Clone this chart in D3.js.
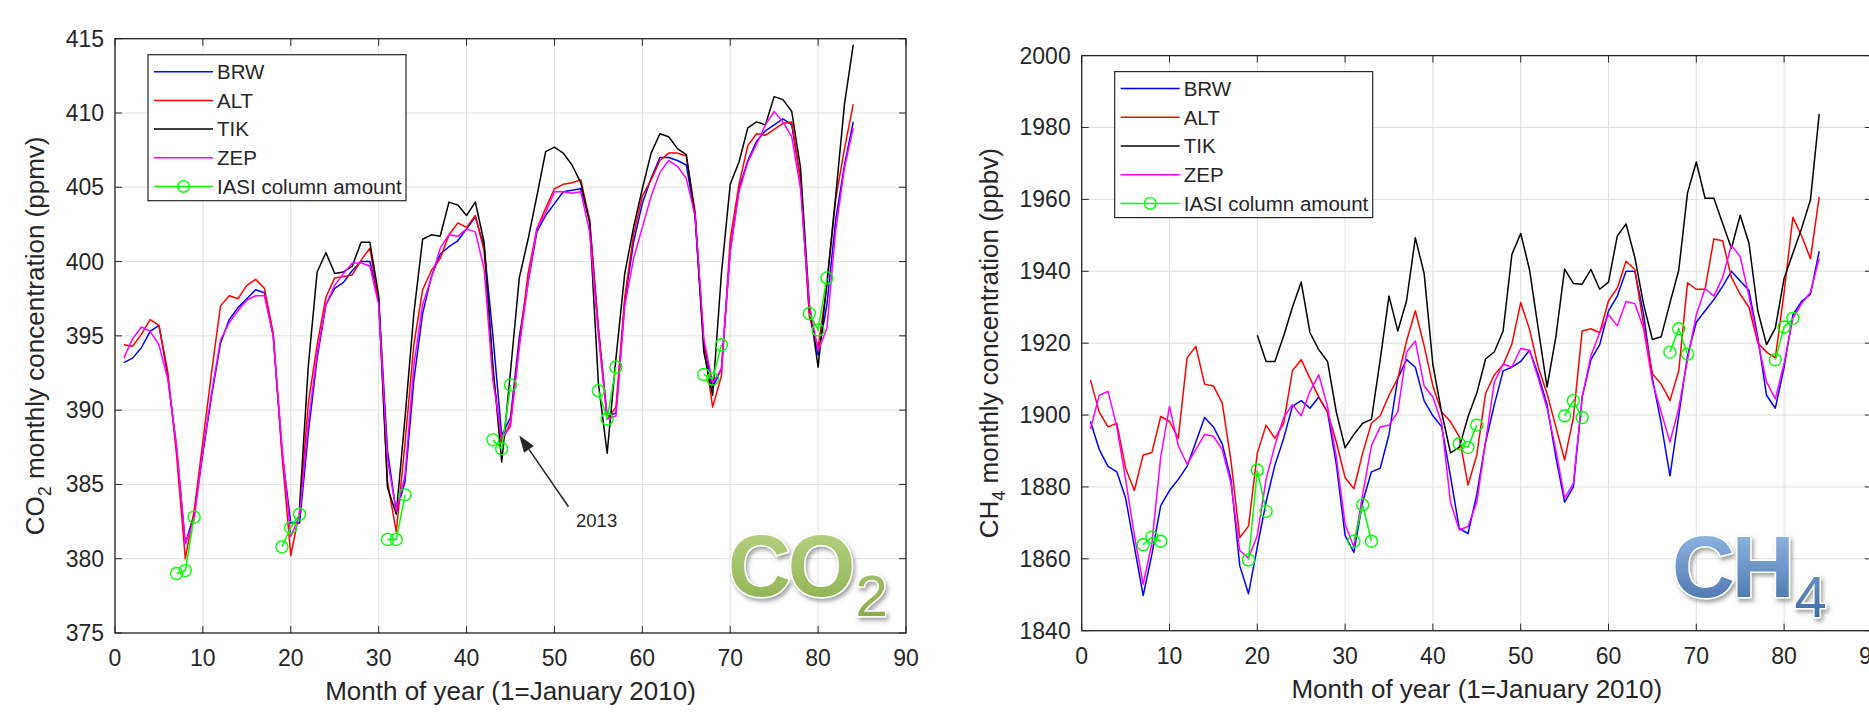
<!DOCTYPE html>
<html>
<head>
<meta charset="utf-8">
<script src="https://cdnjs.cloudflare.com/ajax/libs/d3/7.8.5/d3.min.js"></script>
<style>
  body { margin: 0; background: #fff; }
  svg { display: block; font-family: "Liberation Sans", Arial, Helvetica, sans-serif; }
</style>
</head>
<body>
<svg id="chart" width="1869" height="714"></svg>
<script>
// month index, 1 = January 2010
var months = d3.range(1, 85);
var xTicks = d3.range(0, 100, 10);
var seriesNames = ["BRW", "ALT", "TIK", "ZEP"];
var seriesColors = ["#0000ff", "#ff0000", "#000000", "#ff00ff"];
var iasiColor = "#00ff00";

// ---- CO2 (ppmv) ----
var co2Ticks = d3.range(375, 416, 5);
var co2BRW = [393.2, 393.5, 394.2, 395.3, 395.7, 392.3, 387.5, 381.0, 383.0, 387.1,
  391.0, 394.5, 396.1, 396.9, 397.5, 398.1, 397.9, 395.0, 387.2, 382.4,
  382.4, 388.5, 393.5, 397.1, 398.2, 398.6, 399.4, 400.0, 400.0, 397.5,
  387.3, 383.1, 385.2, 392.0, 396.5, 399.0, 400.5, 401.0, 401.4, 402.2,
  403.0, 401.0, 395.0, 388.3, 389.5, 394.9, 398.6, 402.0, 403.1, 403.9,
  404.7, 404.8, 404.9, 402.8, 395.5, 389.6, 389.8, 397.3, 401.3, 403.9,
  405.6, 407.0, 407.0, 406.8, 406.5, 403.1, 394.5, 391.5, 392.8, 400.7,
  404.9, 406.8, 408.1, 408.8, 409.2, 409.6, 409.2, 405.5, 396.6, 393.7,
  397.1, 402.8, 406.5, 409.4];
var co2ALT = [394.4, 394.3, 395.1, 396.1, 395.7, 392.6, 387.0, 380.0, 383.2, 387.9,
  392.6, 397.0, 397.7, 397.5, 398.4, 398.8, 398.2, 395.2, 387.0, 380.2,
  383.2, 390.5, 394.4, 397.6, 398.9, 399.0, 399.1, 400.1, 400.9, 397.3,
  385.2, 381.8, 387.8, 394.4, 398.1, 399.4, 400.2, 401.8, 402.6, 402.3,
  403.1, 400.7, 392.5, 387.8, 389.2, 394.4, 399.2, 402.2, 403.6, 404.9,
  405.2, 405.3, 405.5, 402.8, 395.5, 389.4, 390.2, 397.6, 401.8, 404.4,
  405.5, 406.8, 407.3, 407.3, 407.1, 403.4, 394.4, 390.2, 392.3, 401.5,
  405.2, 407.8, 408.6, 408.5, 408.9, 409.3, 409.4, 405.5, 396.3, 394.2,
  398.4, 404.2, 407.6, 410.6];
var co2TIK = [null, null, null, null, null, null, null, null, null, null,
  null, null, null, null, null, null, null, null, null, null,
  383.5, 393.0, 399.3, 400.6, 399.2, 399.3, 399.7, 401.3, 401.3, 397.7,
  384.8, 383.0, 389.5, 396.5, 401.5, 401.8, 401.7, 404.0, 403.8, 403.1,
  404.0, 401.3, 393.0, 386.5, 392.6, 398.9, 401.5, 404.4, 407.4, 407.7,
  407.3, 406.5, 405.3, 402.6, 391.8, 387.1, 393.5, 399.2, 402.3, 404.9,
  407.3, 408.6, 408.4, 407.6, 407.2, 403.1, 393.9, 391.0, 399.2, 405.2,
  406.7, 409.0, 409.4, 409.2, 411.1, 410.9, 410.1, 406.3, 397.1, 392.9,
  398.6, 404.4, 410.6, 414.6];
var co2ZEP = [393.5, 394.8, 395.6, 395.3, 394.4, 392.1, 387.6, 381.0, 382.6, 387.3,
  391.2, 394.7, 395.9, 396.7, 397.4, 397.7, 397.7, 395.0, 387.6, 381.5,
  382.9, 389.2, 393.8, 397.1, 398.4, 399.2, 399.9, 399.9, 399.7, 397.1,
  386.7, 383.2, 385.6, 393.0, 397.1, 398.9, 400.9, 401.8, 401.7, 402.2,
  402.0, 399.5, 392.0, 388.1, 388.9, 394.2, 398.6, 402.2, 403.3, 404.7,
  404.7, 404.6, 404.7, 402.0, 395.0, 389.4, 389.6, 397.0, 400.2, 402.3,
  404.4, 406.0, 406.8, 406.4, 405.6, 403.1, 394.8, 391.8, 392.8, 400.7,
  404.7, 406.7, 407.9, 409.2, 410.1, 409.4, 408.4, 404.9, 397.1, 394.0,
  395.5, 402.1, 406.3, 409.0];

// IASI column amounts (Jul-Aug-Sep each year)
var iasiMonths = [7, 8, 9, 19, 20, 21, 31, 32, 33, 43, 44, 45, 55, 56, 57, 67, 68, 69, 79, 80, 81];
var iasiCO2 = [379.0, 379.2, 382.8, 380.8, 382.1, 383.0, 381.3, 381.3, 384.3, 388.0, 387.4,
  391.7, 391.3, 389.4, 392.9, 392.4, 392.1, 394.4, 396.5, 395.4, 398.9];

// ---- CH4 (ppbv) ----
var ch4Ticks = d3.range(1840, 2001, 20);
var ch4BRW = [1898.2, 1890.4, 1885.7, 1884.2, 1876.9, 1863.3, 1849.8, 1861.3, 1874.8, 1879.0,
  1882.1, 1885.7, 1892.5, 1899.3, 1896.7, 1892.0, 1882.1, 1858.1, 1850.3, 1863.3,
  1875.8, 1886.0, 1893.5, 1902.4, 1904.0, 1901.9, 1905.0, 1900.8, 1886.3, 1866.5,
  1861.8, 1875.8, 1884.2, 1885.2, 1894.6, 1910.2, 1915.4, 1913.3, 1904.0, 1899.8,
  1896.7, 1883.0, 1868.5, 1867.0, 1877.9, 1892.5, 1902.9, 1912.3, 1913.3, 1914.9,
  1918.0, 1911.2, 1902.9, 1888.3, 1875.8, 1880.0, 1905.0, 1915.4, 1919.6, 1929.0,
  1933.1, 1940.0, 1940.0, 1928.0, 1910.2, 1897.7, 1883.1, 1899.8, 1916.5, 1925.8,
  1929.0, 1932.1, 1935.8, 1940.0, 1937.3, 1934.7, 1921.7, 1905.5, 1901.9, 1913.3,
  1927.9, 1931.6, 1933.6, 1945.6];
var ch4ALT = [1909.7, 1900.8, 1896.7, 1897.7, 1885.2, 1879.0, 1888.9, 1889.6, 1899.6, 1898.2,
  1893.5, 1915.9, 1919.1, 1908.6, 1908.1, 1903.4, 1887.3, 1865.9, 1869.1, 1889.4,
  1897.2, 1893.5, 1897.7, 1912.3, 1915.4, 1910.2, 1905.0, 1900.8, 1892.5, 1882.6,
  1879.5, 1889.4, 1897.7, 1899.8, 1905.5, 1910.2, 1920.6, 1929.0, 1919.3, 1908.1,
  1900.8, 1898.2, 1894.0, 1880.5, 1888.9, 1906.0, 1911.2, 1913.9, 1919.8, 1931.3,
  1923.9, 1913.3, 1906.0, 1896.7, 1887.5, 1899.3, 1923.4, 1924.0, 1922.9, 1931.8,
  1935.3, 1942.8, 1940.5, 1925.0, 1911.5, 1908.6, 1904.0, 1912.3, 1936.8, 1935.0,
  1935.0, 1949.0, 1948.5, 1938.3, 1933.6, 1930.0, 1920.1, 1917.5, 1915.9, 1934.1,
  1955.0, 1949.8, 1943.5, 1960.7];
var ch4TIK = [null, null, null, null, null, null, null, null, null, null,
  null, null, null, null, null, null, null, null, null,
  1922.2, 1914.9, 1914.9, 1922.0, 1930.0, 1937.0, 1922.9, 1918.2, 1914.9, 1900.8,
  1890.9, 1894.6, 1897.7, 1898.8, 1915.4, 1933.1, 1923.4, 1931.8, 1949.3, 1939.4,
  1914.0, 1900.7, 1889.5, 1891.0, 1899.5, 1906.1, 1915.6, 1917.6, 1923.4, 1944.7,
  1950.5, 1940.5, 1924.0, 1907.8, 1921.7, 1940.6, 1936.6, 1936.4, 1940.5, 1935.0,
  1937.0, 1949.8, 1953.2, 1943.8, 1930.8, 1921.0, 1921.8, 1931.2, 1940.3, 1961.8,
  1970.4, 1960.3, 1960.3, 1953.3, 1946.4, 1955.6, 1947.8, 1929.0, 1919.6, 1924.2,
  1938.0, 1945.0, 1952.0, 1959.8, 1983.8];
var ch4ZEP = [1896.1, 1905.5, 1906.6, 1896.7, 1882.1, 1866.5, 1852.9, 1864.4, 1888.3, 1902.4,
  1891.5, 1886.3, 1890.4, 1894.6, 1894.1, 1890.4, 1881.0, 1862.3, 1860.2, 1866.5,
  1882.1, 1891.5, 1899.3, 1902.9, 1899.8, 1906.6, 1911.2, 1902.4, 1888.3, 1869.6,
  1863.3, 1877.9, 1891.5, 1896.7, 1897.2, 1900.8, 1917.5, 1920.6, 1908.1, 1905.0,
  1897.7, 1875.8, 1868.0, 1869.0, 1875.8, 1892.5, 1909.2, 1914.2, 1913.3, 1918.5,
  1918.0, 1910.2, 1901.9, 1890.4, 1876.9, 1881.0, 1905.0, 1916.5, 1922.9, 1927.9,
  1924.8, 1931.6, 1931.0, 1924.0, 1909.2, 1900.8, 1892.5, 1901.9, 1915.4, 1927.9,
  1935.2, 1933.1, 1938.3, 1947.2, 1944.1, 1933.1, 1920.6, 1909.2, 1904.5, 1914.4,
  1926.9, 1931.0, 1934.2, 1943.5];
var iasiCH4 = [1863.9, 1866.0, 1864.9, 1859.7, 1884.7, 1873.2, 1864.9, 1875.0, 1864.9, 1892.0,
  1891.0, 1897.2, 1899.8, 1904.0, 1899.3, 1917.5, 1924.0, 1917.0, 1915.4, 1924.5, 1926.9];

var svg = d3.select("#chart");
var ink = "#262626";

// gradients + shadow for the big formula labels
var defs = svg.append("defs");
var gGreen = defs.append("linearGradient").attr("id", "gradGreen").attr("x1", 0).attr("y1", 0).attr("x2", 0).attr("y2", 1);
gGreen.append("stop").attr("offset", "0%").attr("stop-color", "#bcd68a");
gGreen.append("stop").attr("offset", "100%").attr("stop-color", "#86a844");
var gBlue = defs.append("linearGradient").attr("id", "gradBlue").attr("x1", 0).attr("y1", 0).attr("x2", 0).attr("y2", 1);
gBlue.append("stop").attr("offset", "0%").attr("stop-color", "#9dc1ee");
gBlue.append("stop").attr("offset", "100%").attr("stop-color", "#35609c");
defs.append("filter").attr("id", "shadow").attr("x", "-20%").attr("y", "-20%").attr("width", "140%").attr("height", "140%")
  .append("feDropShadow").attr("dx", 2).attr("dy", 3).attr("stdDeviation", 2)
  .attr("flood-color", "#555").attr("flood-opacity", 0.55);

function drawPanel(p) {
  var x = d3.scaleLinear().domain([0, 90]).range([p.left, p.right]);
  var y = d3.scaleLinear().domain(p.yDomain).range([p.bottom, p.top]);
  var g = svg.append("g");

  // grid
  g.selectAll(".gx").data(xTicks).enter().append("line")
    .attr("x1", function(d) { return x(d); }).attr("x2", function(d) { return x(d); })
    .attr("y1", p.top).attr("y2", p.bottom)
    .attr("stroke", "#e0e0e0").attr("stroke-width", 1);
  g.selectAll(".gy").data(p.yTicks).enter().append("line")
    .attr("x1", p.left).attr("x2", p.right)
    .attr("y1", function(d) { return y(d); }).attr("y2", function(d) { return y(d); })
    .attr("stroke", "#e0e0e0").attr("stroke-width", 1);

  // station series
  var line = d3.line()
    .defined(function(d) { return d[1] != null; })
    .x(function(d) { return x(d[0]); })
    .y(function(d) { return y(d[1]); });
  p.series.forEach(function(vals, i) {
    g.append("path")
      .datum(months.map(function(m, j) { return [m, vals[j]]; }))
      .attr("d", line)
      .attr("fill", "none")
      .attr("stroke", seriesColors[i])
      .attr("stroke-width", 1.5)
      .attr("stroke-linejoin", "round");
  });

  // IASI: connected only within consecutive months
  var groups = [];
  iasiMonths.forEach(function(m, j) {
    if (j === 0 || m - iasiMonths[j - 1] > 1) groups.push([]);
    groups[groups.length - 1].push([m, p.iasi[j]]);
  });
  groups.forEach(function(gr) {
    g.append("path").datum(gr).attr("d", line)
      .attr("fill", "none").attr("stroke", iasiColor).attr("stroke-width", 1.5);
  });
  g.selectAll(".iasi").data(iasiMonths).enter().append("circle")
    .attr("cx", function(d) { return x(d); })
    .attr("cy", function(d, j) { return y(p.iasi[j]); })
    .attr("r", 6)
    .attr("fill", "none").attr("stroke", iasiColor).attr("stroke-width", 1.4);

  // box + inward ticks
  g.append("rect").attr("x", p.left).attr("y", p.top)
    .attr("width", p.right - p.left).attr("height", p.bottom - p.top)
    .attr("fill", "none").attr("stroke", ink).attr("stroke-width", 1.3);
  var tl = 7;
  xTicks.forEach(function(t) {
    g.append("line").attr("x1", x(t)).attr("x2", x(t)).attr("y1", p.bottom).attr("y2", p.bottom - tl).attr("stroke", ink);
    g.append("line").attr("x1", x(t)).attr("x2", x(t)).attr("y1", p.top).attr("y2", p.top + tl).attr("stroke", ink);
  });
  p.yTicks.forEach(function(t) {
    g.append("line").attr("x1", p.left).attr("x2", p.left + tl).attr("y1", y(t)).attr("y2", y(t)).attr("stroke", ink);
    g.append("line").attr("x1", p.right).attr("x2", p.right - tl).attr("y1", y(t)).attr("y2", y(t)).attr("stroke", ink);
  });

  // tick labels
  g.selectAll(".xl").data(xTicks).enter().append("text")
    .attr("x", function(d) { return x(d); }).attr("y", p.bottom + 33)
    .attr("text-anchor", "middle").attr("font-size", 23).attr("fill", ink)
    .text(function(d) { return d; });
  g.selectAll(".yl").data(p.yTicks).enter().append("text")
    .attr("x", p.left - 11).attr("y", function(d) { return y(d) + 8; })
    .attr("text-anchor", "end").attr("font-size", 23).attr("fill", ink)
    .text(function(d) { return d; });

  // axis titles
  g.append("text").attr("x", (p.left + p.right) / 2).attr("y", p.bottom + 67)
    .attr("text-anchor", "middle").attr("font-size", 26).attr("fill", ink)
    .text("Month of year (1=January 2010)");
  var yt = g.append("text")
    .attr("transform", "translate(" + p.yLabelX + "," + ((p.top + p.bottom) / 2) + ") rotate(-90)")
    .attr("text-anchor", "middle").attr("font-size", 26).attr("fill", ink);
  yt.append("tspan").text(p.gas);
  yt.append("tspan").attr("font-size", 18).attr("dy", 7).text(p.sub);
  yt.append("tspan").attr("dy", -7).text(" monthly concentration (" + p.unit + ")");

  // legend
  var lx = p.left + 33, ly = p.top + 16;
  var lg = g.append("g").attr("transform", "translate(" + lx + "," + ly + ")");
  lg.append("rect").attr("width", 258).attr("height", 146)
    .attr("fill", "#fff").attr("stroke", ink).attr("stroke-width", 1.2);
  var names = seriesNames.concat(["IASI column amount"]);
  var cols = seriesColors.concat([iasiColor]);
  names.forEach(function(n, i) {
    var cy = 17 + i * 28.7;
    lg.append("line").attr("x1", 6).attr("x2", 65).attr("y1", cy).attr("y2", cy)
      .attr("stroke", cols[i]).attr("stroke-width", 1.5);
    if (i === 4) {
      lg.append("circle").attr("cx", 35.5).attr("cy", cy).attr("r", 5.8)
        .attr("fill", "none").attr("stroke", iasiColor).attr("stroke-width", 1.4);
    }
    lg.append("text").attr("x", 69).attr("y", cy + 7.3)
      .attr("font-size", 20.5).attr("fill", ink).text(n);
  });

  // big formula label
  var big = g.append("text")
    .attr("x", p.right - p.bigDx).attr("y", p.bottom - p.bigDy)
    .attr("font-size", 87).attr("font-weight", "bold")
    .attr("fill", p.bigFill).attr("stroke", "#fff").attr("stroke-width", 3)
    .attr("paint-order", "stroke").attr("filter", "url(#shadow)");
  big.append("tspan").attr("letter-spacing", -3).text(p.gas);
  big.append("tspan").attr("font-size", 58).attr("font-weight", "normal").attr("dy", 20).attr("dx", 3).text(p.sub);

  return { x: x, y: y, g: g };
}

var left = drawPanel({
  left: 115, right: 906, top: 38.7, bottom: 633,
  yDomain: [375, 415], yTicks: co2Ticks,
  series: [co2BRW, co2ALT, co2TIK, co2ZEP], iasi: iasiCO2,
  gas: "CO", sub: "2", unit: "ppmv", yLabelX: 44,
  bigFill: "url(#gradGreen)", bigDx: 178, bigDy: 37
});
drawPanel({
  left: 1081.7, right: 1871.9, top: 55.6, bottom: 630.7,
  yDomain: [1840, 2000], yTicks: ch4Ticks,
  series: [ch4BRW, ch4ALT, ch4TIK, ch4ZEP], iasi: iasiCH4,
  gas: "CH", sub: "4", unit: "ppbv", yLabelX: 998,
  bigFill: "url(#gradBlue)", bigDx: 200, bigDy: 34
});

// "2013" annotation arrow (data coordinates of the CO2 panel)
var tip = [46.0, 388.3], tail = [51.6, 383.5];
var tx = left.x(tip[0]), ty = left.y(tip[1]);
var sx = left.x(tail[0]), sy = left.y(tail[1]);
var ang = Math.atan2(ty - sy, tx - sx);
var hl = 17, hw = 6;
var bx = tx - hl * Math.cos(ang), by = ty - hl * Math.sin(ang);
left.g.append("line").attr("x1", sx).attr("y1", sy).attr("x2", bx).attr("y2", by)
  .attr("stroke", ink).attr("stroke-width", 1.5);
left.g.append("path")
  .attr("d", "M" + tx + "," + ty +
    "L" + (bx + hw * Math.sin(ang)) + "," + (by - hw * Math.cos(ang)) +
    "L" + (bx - hw * Math.sin(ang)) + "," + (by + hw * Math.cos(ang)) + "Z")
  .attr("fill", ink);
left.g.append("text").attr("x", left.x(54.8)).attr("y", left.y(382.6) + 7)
  .attr("text-anchor", "middle").attr("font-size", 18.5).attr("fill", ink).text("2013");
</script>
</body>
</html>
